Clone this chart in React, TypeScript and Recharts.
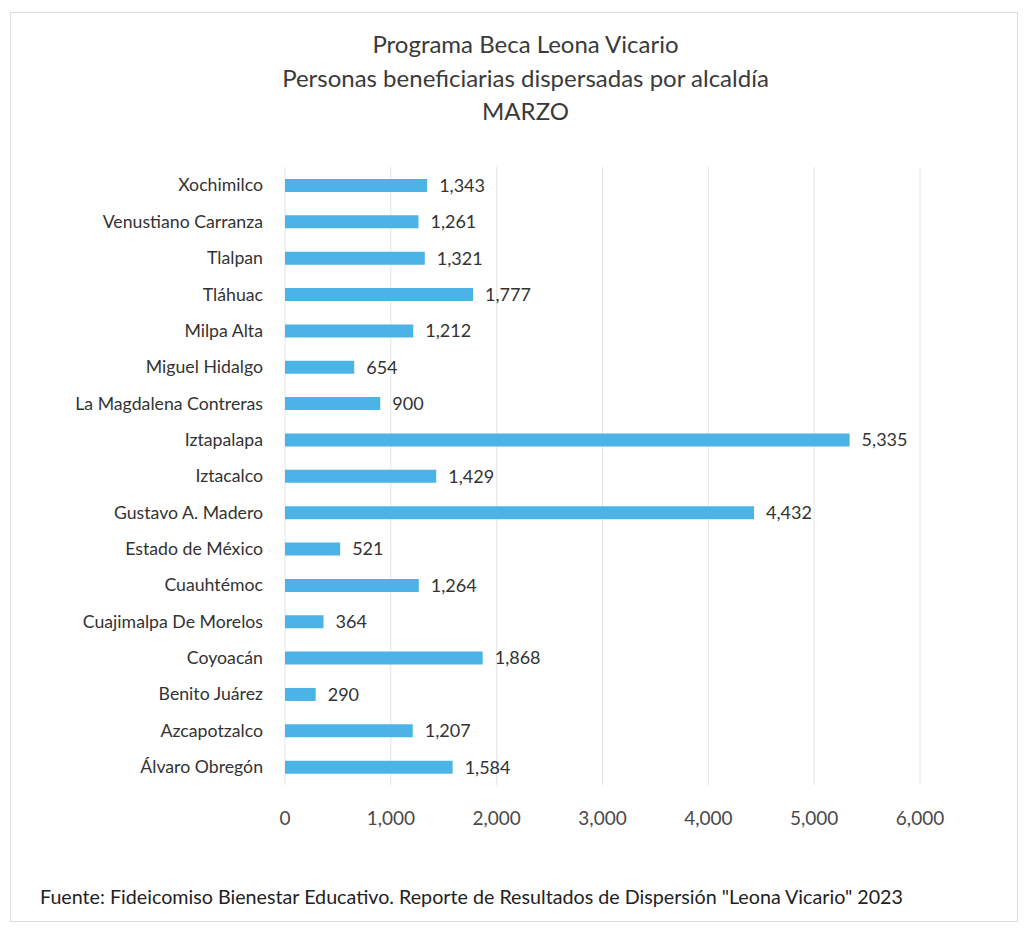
import { BarChart, Bar, XAxis, YAxis, CartesianGrid, LabelList } from "recharts";

const alcaldias = [
  "Xochimilco",
  "Venustiano Carranza",
  "Tlalpan",
  "Tláhuac",
  "Milpa Alta",
  "Miguel Hidalgo",
  "La Magdalena Contreras",
  "Iztapalapa",
  "Iztacalco",
  "Gustavo A. Madero",
  "Estado de México",
  "Cuauhtémoc",
  "Cuajimalpa De Morelos",
  "Coyoacán",
  "Benito Juárez",
  "Azcapotzalco",
  "Álvaro Obregón",
];

const beneficiarias = [
  1343, 1261, 1321, 1777, 1212, 654, 900, 5335, 1429, 4432, 521, 1264, 364, 1868, 290, 1207, 1584,
];

const xTicks = [0, 1000, 2000, 3000, 4000, 5000, 6000];

const titleLines = [
  "Programa Beca Leona Vicario",
  "Personas beneficiarias dispersadas por alcaldía",
  "MARZO",
];

const fuente =
  'Fuente: Fideicomiso Bienestar Educativo. Reporte de Resultados de Dispersión "Leona Vicario" 2023';

const data = alcaldias.map((name, i) => ({ name, value: beneficiarias[i] }));

const fmt = (v: number) => v.toLocaleString("en-US");

const FONT = "Lato, 'Open Sans', sans-serif";

export default function App() {
  return (
    <div
      style={{
        position: "absolute",
        left: 0,
        top: 0,
        width: 1024,
        height: 928,
        background: "#fff",
        fontFamily: FONT,
        overflow: "hidden",
      }}
    >
      {/* light frame around the chart */}
      <div
        style={{
          position: "absolute",
          left: 10,
          top: 12,
          width: 1008,
          height: 910,
          border: "1px solid #dcdcdc",
          boxSizing: "border-box",
        }}
      />
      <div style={{ position: "absolute", left: 0, top: 27, width: 1051, textAlign: "center" }}>
        {titleLines.map((t) => (
          <div key={t} style={{ fontSize: 24, lineHeight: "33.5px", color: "#3a3a3a" }}>
            {t}
          </div>
        ))}
      </div>
      <div style={{ position: "absolute", left: 0, top: 0 }}>
        <BarChart
          width={1024}
          height={928}
          data={data}
          layout="vertical"
          margin={{ top: 167, right: 104, bottom: 0, left: 15 }}
        >
          <CartesianGrid horizontal={false} stroke="#e4e4e4" />
          <XAxis
            type="number"
            domain={[0, 6000]}
            ticks={xTicks}
            tickFormatter={fmt}
            axisLine={false}
            tickLine={false}
            tickMargin={21}
            height={143}
            tick={{ fontSize: 19, fill: "#4a4a4a", fontFamily: FONT }}
          />
          <YAxis
            type="category"
            dataKey="name"
            width={270}
            axisLine={false}
            tickLine={false}
            tickMargin={16}
            interval={0}
            tick={{ fontSize: 17.7, fill: "#333", fontFamily: FONT }}
          />
          <Bar dataKey="value" fill="#4cb3e6" barSize={13} isAnimationActive={false}>
            <LabelList
              dataKey="value"
              position="right"
              offset={12}
              formatter={(v: any) => fmt(Number(v))}
              style={{ fontSize: 18, fill: "#333", fontFamily: FONT }}
            />
          </Bar>
        </BarChart>
      </div>
      <div
        style={{
          position: "absolute",
          left: 40,
          top: 885,
          fontSize: 19.7,
          color: "#222",
          whiteSpace: "nowrap",
        }}
      >
        {fuente}
      </div>
    </div>
  );
}
